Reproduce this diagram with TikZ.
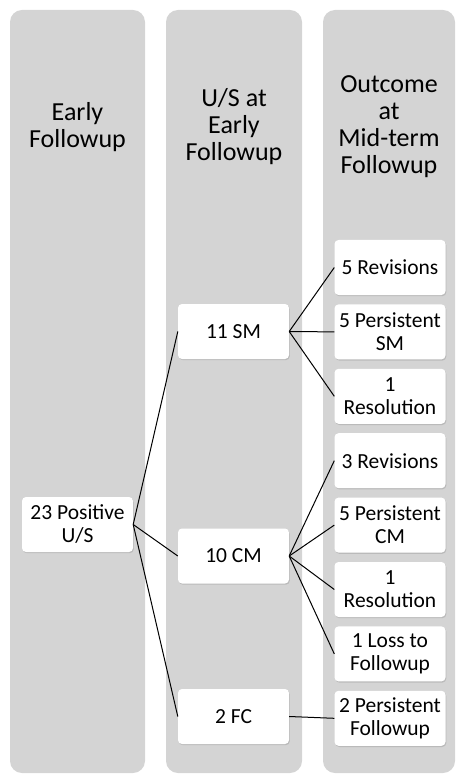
\documentclass[tikz,border=0pt]{standalone}
\usepackage{fontspec}
\setmainfont{Carlito}
\usetikzlibrary{positioning,shadows}
\definecolor{Lane}{HTML}{D4D4D4}

\begin{document}
\begin{tikzpicture}[x=1pt,y=-1pt,every node/.style={align=center},
  lane/.style={fill=Lane,rounded corners=12pt},
  head/.style={font=\fontsize{26}{27}\selectfont},
  box/.style={fill=white,rounded corners=4pt,minimum width=111pt,minimum height=55pt,
    inner sep=1pt,font=\fontsize{21.5}{23}\selectfont,
    drop shadow={opacity=0.3,shadow xshift=0.8pt,shadow yshift=-1.2pt}},
  link/.style={line width=1pt}]
  \useasboundingbox (0,0) rectangle (456,775);
  % columns
  \fill[lane] (10,10) rectangle (145,773);
  \fill[lane] (166,10) rectangle (302,773);
  \fill[lane] (323,10) rectangle (455,773);
  \node[head] (hEarly) at (77.5,127) {Early\\Followup};
  \node[head] (hUS) at (234,127) {U/S at\\Early\\Followup};
  \node[head] (hOut) at (389,127) {Outcome\\at\\Mid-term\\Followup};
  % nodes
  \node[box] (pos) at (77.5,524.5) {23 Positive\\U/S};
  \node[box] (sm) at (233.5,331.5) {11 SM};
  \node[box] (cm) at (233.5,556) {10 CM};
  \node[box] (fc) at (233.5,716.5) {2 FC};
  \node[box] (rev5) at (390,267.5) {5 Revisions};
  \node[box,below=9pt of rev5] (persSM) {5 Persistent\\SM};
  \node[box,below=9pt of persSM] (resSM) {1\\Resolution};
  \node[box,below=9pt of resSM] (rev3) {3 Revisions};
  \node[box,below=9pt of rev3] (persCM) {5 Persistent\\CM};
  \node[box,below=9pt of persCM] (resCM) {1\\Resolution};
  \node[box,below=9pt of resCM] (loss) {1 Loss to\\Followup};
  \node[box,below=9pt of loss] (persFC) {2 Persistent\\Followup};
  % links
  \foreach \t in {sm,cm,fc} \draw[link] (pos.east)--(\t.west);
  \foreach \t in {rev5,persSM,resSM} \draw[link] (sm.east)--(\t.west);
  \foreach \t in {rev3,persCM,resCM,loss} \draw[link] (cm.east)--(\t.west);
  \draw[link] (fc.east)--(persFC.west);
\end{tikzpicture}
\end{document}
